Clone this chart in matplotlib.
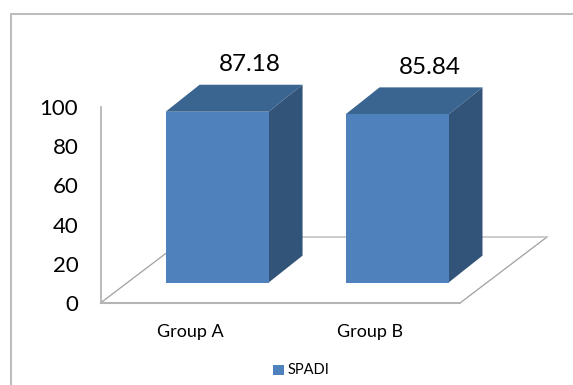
import matplotlib
matplotlib.use("Agg")
import matplotlib.pyplot as plt
from matplotlib.patches import Polygon

groups = ["Group A", "Group B"]
spadi = [87.18, 85.84]
y_ticks = [0, 20, 40, 60, 80, 100]

W, H = 573, 385
plt.rcParams['font.family'] = ['Lato', 'DejaVu Sans']

front = "#4f81bd"
top = "#3a6591"
side = "#335479"
grid = "#b5b5b5"

fig = plt.figure(figsize=(W / 100, H / 100), dpi=100)

# page frame, in pixels (only left and top show in the original)
bg = fig.add_axes([0, 0, 1, 1])
bg.set_xlim(0, W)
bg.set_ylim(H, 0)
bg.axis("off")
bg.plot([10.5, 10.5, W], [H, 14, 14], color="#bdbdbd", lw=1.5)

# the axes box is the front of the floor
ax = fig.add_axes([100.5 / W, 1 - 303 / H, 359.5 / W, 196 / H])
ax.set_xlim(-0.648, 1.35)
ax.set_ylim(0, 100)
ax.patch.set_alpha(0)
for s in ["top", "right"]:
    ax.spines[s].set_visible(False)
ax.spines["left"].set_color(grid)
ax.spines["bottom"].set_color(grid)
ax.spines["left"].set_linewidth(1.3)
ax.spines["bottom"].set_linewidth(1.5)
ax.spines["left"].set_bounds(0, 100)

# depth of the 3d look in data units
dx, dy = 34 / 180, 27 / 1.96
lift = 10.4
bar_w = 103 / 180
floor_dx, floor_dy = 87 / 180, 66 / 1.96
xl, xr = ax.get_xlim()

ax.plot([xl, xl + floor_dx], [0, floor_dy], color="#a0a0a0", lw=0.9, clip_on=False)
ax.plot([xr, xr + floor_dx], [0, floor_dy], color="#a0a0a0", lw=0.9, clip_on=False)
ax.plot([xl + floor_dx, xr + floor_dx], [floor_dy, floor_dy], color="#c4c4c4", lw=1.2, clip_on=False)

for i, v in enumerate(spadi):
    x0 = i - bar_w / 2
    x1 = i + bar_w / 2
    y1 = lift + v
    ax.add_patch(Polygon([(x0, y1), (x0 + dx, y1 + dy), (x1 + dx, y1 + dy), (x1, y1)],
                         color=top, lw=0, clip_on=False, zorder=3))
    ax.add_patch(Polygon([(x1, lift), (x1 + dx, lift + dy), (x1 + dx, y1 + dy), (x1, y1)],
                         color=side, lw=0, clip_on=False, zorder=3))
    ax.bar(i, v, bar_w, bottom=lift, color=front, zorder=4)
    ax.text(i + 0.18, y1 + dy + 5, f"{v:.2f}", ha="center", va="bottom", fontsize=17.5, clip_on=False)

# category labels sit left of the bars in the original
ax.set_xticks([i - 0.15 for i in range(len(groups))])
ax.set_xticklabels(groups, fontsize=13)
ax.set_yticks(y_ticks)
ax.tick_params(axis="x", length=0, pad=15)
ax.tick_params(axis="y", length=0, pad=16, labelsize=16)

# legend
bg.add_patch(Polygon([(273, 365), (284, 365), (284, 375), (273, 375)], color=front, lw=0))
bg.text(288, 369.5, "SPADI", fontsize=10.5, va="center", ha="left")

fig.savefig("out.png", dpi=100)
